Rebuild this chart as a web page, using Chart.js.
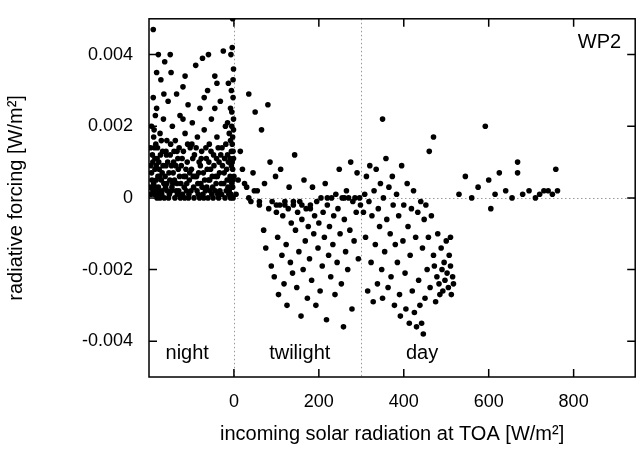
<!DOCTYPE html>
<html>
<head>
<meta charset="utf-8">
<script src="https://cdn.jsdelivr.net/npm/chart.js@4/dist/chart.umd.min.js"></script>
<style>
html, body { margin: 0; padding: 0; background: #fff; }
#wrap { width: 638px; height: 450px; }
</style>
</head>
<body>
<div id="wrap"><canvas id="chart_canvas"></canvas></div>
<script>
const xTicks = [0, 200, 400, 600, 800];
const yTicks = [-0.004, -0.002, 0, 0.002, 0.004];
const regionLabels = [["night", -110], ["twilight", 155], ["day", 443]];
const regionBounds = [0, 300];

const nightPoints = [[-195,0.0001],[-193,0.0005],[-192,0.0012],[-190,0.0047],[-190,0.0028],[-188,0.0019],[-186,0.0008],[-185,0.0003],[-184,0.0015],[-182,0.0025],[-180,0.0002],[-178,0.0040],[-177,0.0010],[-175,0.0006],[-174,0.0018],[-172,0.0033],[-170,0.0001],[-168,0.0013],[-166,0.0022],[-165,0.0004],[-163,0.0038],[-160,0.0009],[-158,0.0016],[-157,0.0002],[-155,0.0027],[-153,0.0007],[-150,0.0012],[-148,0.0035],[-146,0.0003],[-145,0.0020],[-142,0.0010],[-140,0.0005],[-138,0.0016],[-135,0.0029],[-133,0.0001],[-131,0.0008],[-129,0.0014],[-127,0.0023],[-125,0.0004],[-122,0.0011],[-120,0.0031],[-118,0.0006],[-115,0.0018],[-112,0.0002],[-110,0.0010],[-108,0.0026],[-105,0.0005],[-103,0.0014],[-100,0.0008],[-98,0.0021],[-95,0.0003],[-93,0.0012],[-90,0.0037],[-88,0.0006],[-86,0.0017],[-84,0.0001],[-82,0.0010],[-80,0.0025],[-78,0.0004],[-76,0.0013],[-74,0.0039],[-72,0.0007],[-70,0.0019],[-67,0.0002],[-65,0.0011],[-62,0.0030],[-60,0.0005],[-58,0.0015],[-55,0.0008],[-53,0.0022],[-50,0.0003],[-48,0.0012],[-45,0.0034],[-43,0.0006],[-40,0.0017],[-38,0.0001],[-35,0.0010],[-32,0.0027],[-30,0.0004],[-28,0.0014],[-25,0.0041],[-23,0.0007],[-20,0.0020],[-18,0.0002],[-15,0.0012],[-13,0.0032],[-10,0.0005],[-8,0.0016],[-6,0.0009],[-5,0.0024],[-4,0.0042],[-3,0.0003],[-2,0.0013],[-1,0.0019],[-1,0.0036],[-3,0.0050],[0,0.0006],[-2,0.0028],[-7,0.0040],[-12,0.0001],[-9,0.0011],[-4,0.0015],[-6,0.0030],[-196,0.0009],[-189,0.0004],[-181,0.0011],[-176,0.0001],[-169,0.0007],[-161,0.0003],[-152,0.0001],[-143,0.0007],[-136,0.0002],[-126,0.0000],[-117,0.0003],[-106,0.0001],[-96,0.0006],[-85,0.0004],[-73,0.0001],[-63,0.0008],[-52,0.0001],[-42,0.0004],[-33,0.0002],[-22,0.0011],[-14,0.0003],[-7,0.0001],[-3,0.0008],[-1,0.0022],[-194,0.0020],[-187,0.0014],[-179,0.0006],[-171,0.0016],[-159,0.0012],[-147,0.0009],[-134,0.0013],[-114,0.0006],[-99,0.0015],[-79,0.0009],[-57,0.0005],[-37,0.0014],[-17,0.0008],[-11,0.0018],
    [-197,0.0003],[-196,0.0014],[-194,0.0007],[-191,0.0002],[-191,0.0010],[-189,0.0017],[-187,0.0001],[-186,0.0011],[-183,0.0005],[-183,0.0009],[-181,0.0000],[-180,0.0014],[-178,0.0003],[-176,0.0008],[-174,0.0000],[-173,0.0012],[-171,0.0005],[-169,0.0002],[-167,0.0009],[-164,0.0000],[-162,0.0006],[-160,0.0013],[-158,0.0004],[-156,0.0010],[-154,0.0000],[-151,0.0005],[-149,0.0015],[-147,0.0002],[-144,0.0004],[-141,0.0013],[-139,0.0000],[-137,0.0009],[-134,0.0004],[-132,0.0011],[-130,0.0002],[-128,0.0006],[-124,0.0009],[-121,0.0001],[-119,0.0013],[-116,0.0000],[-113,0.0008],[-111,0.0004],[-109,0.0015],[-107,0.0000],[-104,0.0007],[-101,0.0002],[-97,0.0011],[-94,0.0000],[-91,0.0006],[-89,0.0014],[-87,0.0002],[-83,0.0007],[-81,0.0000],[-77,0.0011],[-75,0.0003],[-71,0.0000],[-69,0.0005],[-66,0.0014],[-64,0.0003],[-61,0.0000],[-59,0.0010],[-56,0.0002],[-54,0.0013],[-51,0.0006],[-49,0.0000],[-47,0.0009],[-44,0.0002],[-41,0.0011],[-39,0.0006],[-36,0.0000],[-34,0.0007],[-31,0.0012],[-29,0.0001],[-27,0.0009],[-24,0.0004],[-21,0.0000],[-19,0.0015],[-16,0.0005],[-13,0.0010],[-11,0.0002],[-9,0.0006],[-8,0.0000],[-6,0.0013],[-5,0.0004],[-4,0.0010],[-3,0.0017],[-2,0.0005],[-1,0.0011],[-2,0.0000],[-5,0.0020],[-8,0.0025],[-2,0.0033],[-15,0.0021],[-45,0.0025],[-70,0.0028],[-120,0.0022],[-165,0.0029],[-185,0.0023],[-182,0.0035],[-150,0.0040],[-115,0.0034],[-60,0.0040],[-40,0.0032]];

const twilightPoints = [[5,0.0001],[10,0.0005],[15,0.0013],[20,0.0008],[35,0.0029],[30,0.0003],[35,0.0000],[40,-0.0001],[45,0.0007],[50,0.0024],[55,0.0002],[60,-0.0002],[65,0.0019],[70,-0.0009],[72,0.0004],[75,-0.0014],[80,0.0026],[82,-0.0003],[85,0.0010],[88,-0.0019],[90,-0.0001],[95,-0.0022],[98,0.0006],[100,-0.0004],[103,-0.0011],[105,-0.0027],[108,-0.0002],[110,0.0008],[113,-0.0016],[115,-0.0005],[118,-0.0024],[120,-0.0001],[123,-0.0013],[125,-0.0030],[128,-0.0003],[130,0.0003],[133,-0.0018],[135,-0.0007],[138,-0.0021],[140,-0.0002],[143,0.0012],[145,-0.0009],[148,-0.0025],[150,-0.0004],[153,-0.0015],[155,-0.0001],[158,-0.0033],[160,-0.0006],[163,-0.0020],[165,0.0005],[168,-0.0012],[170,-0.0003],[173,-0.0028],[175,-0.0008],[178,-0.0017],[180,-0.0002],[183,-0.0023],[185,0.0003],[188,-0.0010],[190,-0.0005],[193,-0.0030],[195,-0.0001],[198,-0.0014],[200,-0.0007],[203,-0.0026],[205,0.0000],[208,-0.0019],[210,-0.0004],[213,-0.0011],[215,0.0004],[218,-0.0034],[220,-0.0002],[223,-0.0016],[225,-0.0008],[228,-0.0022],[230,0.0000],[233,-0.0013],[235,-0.0005],[238,-0.0027],[240,0.0001],[243,-0.0018],[245,-0.0003],[248,0.0008],[250,-0.0010],[253,-0.0024],[255,0.0000],[258,-0.0036],[260,-0.0006],[263,-0.0015],[265,0.0002],[268,-0.0020],[270,0.0000],[273,-0.0009],[275,0.0010],[278,-0.0031],[280,-0.0001],[283,-0.0012],[285,0.0000],[288,-0.0004],[290,0.0007],[293,-0.0017],[296,0.0000],[298,-0.0002],[60,-0.0001],[100,-0.0002],[140,-0.0001],[180,-0.0003],[220,0.0000],[260,0.0000],[120,-0.0002],[160,-0.0002],[25,0.0004],[48,0.0002]];

const dayPoints = [[350,0.0022],[305,-0.0004],[308,0.0001],[310,-0.0011],[312,0.0006],[315,-0.0026],[318,-0.0001],[320,0.0009],[323,-0.0018],[325,-0.0005],[328,-0.0029],[330,0.0002],[333,-0.0013],[335,0.0008],[338,-0.0024],[340,-0.0003],[343,-0.0008],[345,0.0004],[348,-0.0020],[350,-0.0028],[352,0.0000],[355,-0.0015],[358,0.0011],[360,-0.0006],[363,-0.0025],[365,0.0003],[368,-0.0010],[370,-0.0022],[373,0.0006],[375,-0.0002],[378,-0.0030],[380,-0.0013],[383,0.0001],[385,-0.0018],[388,-0.0005],[390,-0.0027],[392,-0.0033],[395,0.0009],[398,-0.0012],[400,-0.0002],[403,-0.0021],[405,-0.0031],[408,0.0004],[410,-0.0008],[413,-0.0035],[415,-0.0016],[418,-0.0003],[420,-0.0026],[423,0.0002],[425,-0.0032],[428,-0.0011],[430,-0.0036],[433,-0.0004],[435,-0.0023],[438,-0.0030],[440,-0.0001],[442,-0.0035],[444,-0.0014],[446,-0.0038],[448,-0.0006],[450,-0.0028],[452,-0.0002],[455,-0.0020],[458,-0.0011],[460,0.0013],[462,-0.0025],[465,-0.0005],[470,0.0017],[470,-0.0016],[472,-0.0019],[475,-0.0029],[478,-0.0022],[480,-0.0010],[483,-0.0024],[485,-0.0027],[488,-0.0014],[490,-0.0020],[492,-0.0026],[495,-0.0018],[497,-0.0023],[500,-0.0012],[502,-0.0021],[505,-0.0025],[507,-0.0016],[510,-0.0019],[512,-0.0027],[515,-0.0022],[517,-0.0024],[510,-0.0011],[530,0.0001],[545,0.0006],[560,0.0000],[575,0.0003],[592,0.0020],[600,0.0005],[605,-0.0003],[615,0.0001],[625,0.0007],[640,0.0002],[655,0.0000],[668,0.0010],[668,0.0007],[680,0.0001],[695,0.0002],[710,0.0000],[720,0.0001],[730,0.0002],[740,0.0002],[750,0.0001],[758,0.0008],[762,0.0002]];

const toXY = p => ({ x: p[0], y: p[1] });
const FONT = '"Liberation Sans", Arial, sans-serif';

const framePlugin = {
    id: 'frame',
    beforeDatasetsDraw(chart) {
        const c = chart.ctx, a = chart.chartArea, sx = chart.scales.x, sy = chart.scales.y;
        c.save();
        c.strokeStyle = '#999';
        c.lineWidth = 1;
        c.setLineDash([1.5, 2.5]);
        c.beginPath();
        const y0 = Math.round(sy.getPixelForValue(0)) + 0.5;
        c.moveTo(a.left, y0); c.lineTo(a.right, y0);
        regionBounds.forEach(v => {
            const px = Math.round(sx.getPixelForValue(v)) + 0.5;
            c.moveTo(px, a.top); c.lineTo(px, a.bottom);
        });
        c.stroke();
        c.restore();
    },
    afterDraw(chart) {
        const c = chart.ctx, a = chart.chartArea, sx = chart.scales.x, sy = chart.scales.y;
        c.save();
        c.strokeStyle = '#000';
        c.lineWidth = 1.5;
        c.strokeRect(a.left, a.top, a.right - a.left, a.bottom - a.top);
        c.beginPath();
        xTicks.forEach(v => {
            const px = sx.getPixelForValue(v);
            c.moveTo(px, a.bottom); c.lineTo(px, a.bottom - 8);
            c.moveTo(px, a.top); c.lineTo(px, a.top + 8);
        });
        yTicks.forEach(v => {
            const py = sy.getPixelForValue(v);
            c.moveTo(a.left, py); c.lineTo(a.left + 8, py);
            c.moveTo(a.right, py); c.lineTo(a.right - 8, py);
        });
        c.stroke();
        c.fillStyle = '#000';
        c.font = '20px ' + FONT;
        c.textAlign = 'center';
        c.textBaseline = 'alphabetic';
        regionLabels.forEach(r => c.fillText(r[0], sx.getPixelForValue(r[1]), 359));
        c.textAlign = 'right';
        c.fillText('WP2', a.right - 14, 48);
        c.restore();
    }
};

new Chart(document.getElementById('chart_canvas'), {
    type: 'scatter',
    data: {
        datasets: [
            { data: nightPoints.map(toXY) },
            { data: twilightPoints.map(toXY) },
            { data: dayPoints.map(toXY) }
        ]
    },
    options: {
        responsive: true,
        maintainAspectRatio: false,
        animation: false,
        devicePixelRatio: 1,
        layout: { padding: { top: 15, right: 1, left: 0, bottom: 0 } },
        elements: { point: { radius: 2.8, backgroundColor: '#000', borderWidth: 0, hoverRadius: 2.8 } },
        plugins: { legend: { display: false }, tooltip: { enabled: false } },
        scales: {
            x: {
                type: 'linear', min: -200, max: 945,
                grid: { display: false }, border: { display: false },
                afterBuildTicks: s => { s.ticks = xTicks.map(v => ({ value: v })); },
                afterFit: s => { s.height = 73; },
                ticks: { color: '#000', padding: 6, font: { size: 18, family: FONT } },
                title: { display: true, text: 'incoming solar radiation at TOA [W/m²]', color: '#000', padding: { top: 6 },
                         font: { size: 20, family: FONT } }
            },
            y: {
                type: 'linear', min: -0.005, max: 0.005,
                grid: { display: false }, border: { display: false },
                afterBuildTicks: s => { s.ticks = yTicks.map(v => ({ value: v })); },
                afterFit: s => { s.width = 149; },
                ticks: { color: '#000', padding: 8, font: { size: 18, family: FONT },
                         callback: v => (Math.abs(v) < 1e-12 ? '0' : String(+v.toFixed(3))) },
                title: { display: true, text: 'radiative forcing [W/m²]', color: '#000', padding: { bottom: 10 },
                         font: { size: 20, family: FONT } }
            }
        }
    },
    plugins: [framePlugin]
});
</script>
</body>
</html>
